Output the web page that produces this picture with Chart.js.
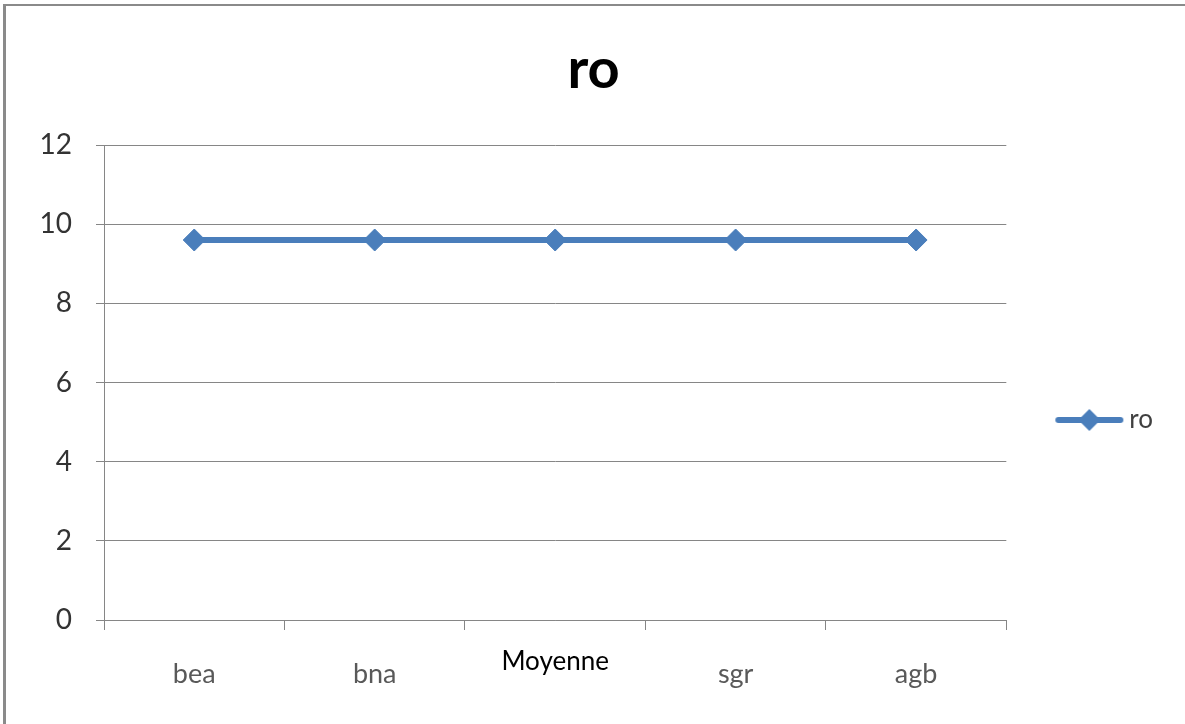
<!DOCTYPE html>
<html>
<head>
<meta charset="utf-8">
<script src="https://cdn.jsdelivr.net/npm/chart.js@4/dist/chart.umd.min.js"></script>
<style>
  html, body { margin: 0; padding: 0; background: #fff; overflow: hidden; }
  #frame { position: absolute; left: 3px; top: 4px; width: 1300px; height: 800px;
           border-left: 3px solid #8a8a8a; border-top: 2px solid #8a8a8a; }
  #roChart { position: absolute; left: 0; top: 0; }
</style>
</head>
<body>
<div id="frame"></div>
<canvas id="roChart" width="1185" height="724"></canvas>
<script>
var categories = ['bea', 'bna', 'Moyenne', 'sgr', 'agb'];
var roValues = [9.6, 9.6, 9.6, 9.6, 9.6];
var yTicks = [0, 2, 4, 6, 8, 10, 12];

var blue = '#4a7ebb';
var gridGray = '#868686';

// icone de legende : trait + losange (marge transparente a gauche)
var legendIcon = document.createElement('canvas');
legendIcon.width = 118;
legendIcon.height = 26;
var ic = legendIcon.getContext('2d');
ic.strokeStyle = blue;
ic.lineWidth = 6;
ic.lineCap = 'round';
ic.beginPath();
ic.moveTo(51, 13);
ic.lineTo(113, 13);
ic.stroke();
ic.fillStyle = blue;
ic.beginPath();
ic.moveTo(82 - 11, 13);
ic.lineTo(82, 2);
ic.lineTo(82 + 11, 13);
ic.lineTo(82, 24);
ic.closePath();
ic.fill();

var ctx = document.getElementById('roChart').getContext('2d');

var roChart = new Chart(ctx, {
    type: 'line',
    data: {
        labels: categories,
        datasets: [{
            label: 'ro',
            data: roValues,
            borderColor: blue,
            backgroundColor: blue,
            borderWidth: 6,
            pointStyle: 'rectRot',
            pointRadius: 11,
            pointHoverRadius: 11,
            pointBorderWidth: 1,
            pointBackgroundColor: blue,
            pointBorderColor: blue,
            tension: 0
        }]
    },
    options: {
        responsive: false,
        animation: false,
        layout: {
            padding: { left: 24, right: 22, top: 0, bottom: 0 }
        },
        plugins: {
            title: {
                display: true,
                text: 'ro',
                color: '#000',
                font: { family: 'Lato', size: 56, weight: 'bold', lineHeight: 1 },
                padding: { top: 42, bottom: 47 }
            },
            legend: {
                position: 'right',
                title: {
                    display: true,
                    text: ' ',
                    font: { size: 12, lineHeight: 1 },
                    padding: { top: 104, bottom: 0 }
                },
                labels: {
                    usePointStyle: true,
                    pointStyleWidth: 100,
                    color: '#404040',
                    font: { family: 'Lato', size: 26 },
                    padding: 10,
                    generateLabels: function(chart) {
                        var items = Chart.defaults.plugins.legend.labels.generateLabels(chart);
                        items.forEach(function(it) { it.pointStyle = legendIcon; });
                        return items;
                    }
                }
            },
            tooltip: { enabled: false }
        },
        scales: {
            x: {
                offset: true,
                grid: {
                    offset: true,
                    drawOnChartArea: false,
                    drawTicks: true,
                    tickLength: 10,
                    color: gridGray
                },
                border: { color: gridGray, width: 1 },
                ticks: {
                    padding: 20,
                    color: function(c) { return c.index === 2 ? '#000' : '#595959'; },
                    font: function(c) {
                        return c.index === 2
                            ? { family: 'Lato', size: 26, lineHeight: 0.92 }
                            : { family: 'Lato', size: 27, lineHeight: 1.78 };
                    }
                },
                afterFit: function(s) { s.height = 104; }
            },
            y: {
                min: 0,
                max: 12,
                afterBuildTicks: function(s) {
                    s.ticks = yTicks.map(function(v) { return { value: v }; });
                },
                grid: {
                    color: gridGray,
                    tickLength: 8
                },
                border: { color: gridGray, width: 1 },
                ticks: {
                    padding: 24,
                    color: '#333333',
                    font: { family: 'Lato', size: 28 }
                },
                afterFit: function(s) { s.width = 80; }
            }
        }
    }
});
</script>
</body>
</html>
